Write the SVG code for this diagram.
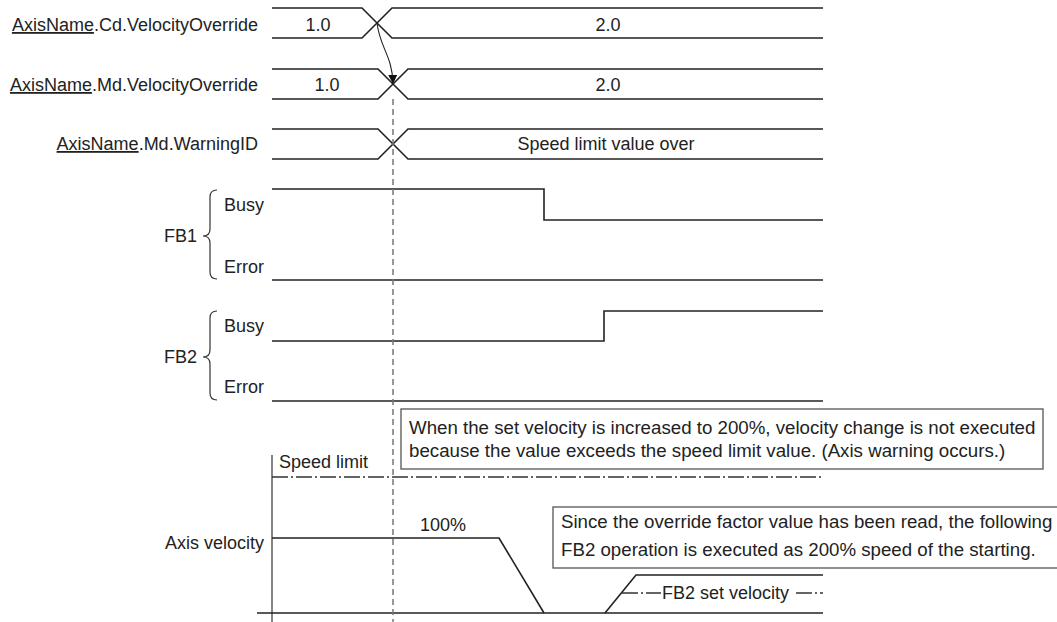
<svg xmlns="http://www.w3.org/2000/svg" width="1057" height="622" viewBox="0 0 1057 622">
<style>
text{font-family:"Liberation Sans",Arial,sans-serif;font-size:18px;fill:#222}
.bt{font-size:18.7px}
.sig{fill:none;stroke:#222;stroke-width:1.6}
.box{fill:#fff;stroke:#555;stroke-width:1.3}
.u{text-decoration:underline}
.e{text-anchor:end}
.m{text-anchor:middle}
.dd{fill:none;stroke:#333;stroke-width:1.3;stroke-dasharray:16 3 2 3}
</style>
<defs>
<marker id="ah" viewBox="0 0 10 10" refX="9" refY="5" markerWidth="9" markerHeight="9" markerUnits="userSpaceOnUse" orient="auto">
<path d="M0,0 L10,5 L0,10 Z" fill="#111"/>
</marker>
</defs>
<rect width="1057" height="622" fill="#fff"/>

<g id="row-cd">
<text x="258" y="31" class="e"><tspan class="u">AxisName</tspan>.Cd.VelocityOverride</text>
<path class="sig" d="M272,8 H362 L392,38 H823 M272,38 H362 L392,8 H823"/>
<text x="318" y="31" class="m">1.0</text>
<text x="608" y="31" class="m">2.0</text>
</g>

<g id="row-md">
<text x="258" y="91" class="e"><tspan class="u">AxisName</tspan>.Md.VelocityOverride</text>
<path class="sig" d="M272,69 H378 L408,99 H823 M272,99 H378 L408,69 H823"/>
<text x="327" y="91" class="m">1.0</text>
<text x="608" y="91" class="m">2.0</text>
</g>

<g id="row-warn">
<text x="258" y="150" class="e"><tspan class="u">AxisName</tspan>.Md.WarningID</text>
<path class="sig" d="M272,129 H378 L408,159 H823 M272,159 H378 L408,129 H823"/>
<text x="606" y="150" class="m">Speed limit value over</text>
</g>

<g id="fb1">
<path d="M217,190 Q210,190 210,197 V229 Q210,236 203,236 Q210,236 210,243 V272 Q210,279 217,279" fill="none" stroke="#333" stroke-width="1.2"/>
<text x="197" y="242" class="e">FB1</text>
<text x="224" y="211">Busy</text>
<text x="224" y="273">Error</text>
<path class="sig" d="M272,189 H544 V220 H823"/>
<path class="sig" d="M272,280 H823"/>
</g>

<g id="fb2">
<path d="M217,311 Q210,311 210,318 V350 Q210,357 203,357 Q210,357 210,364 V393 Q210,400 217,400" fill="none" stroke="#333" stroke-width="1.2"/>
<text x="197" y="363" class="e">FB2</text>
<text x="224" y="332">Busy</text>
<text x="224" y="393">Error</text>
<path class="sig" d="M272,341 H604 V311 H823"/>
<path class="sig" d="M272,401 H823"/>
</g>

<g id="velocity">
<line x1="272" y1="455" x2="272" y2="622" stroke="#666" stroke-width="1.6"/>
<text x="279" y="468">Speed limit</text>
<line x1="272" y1="477" x2="823" y2="477" class="dd"/>
<text x="264" y="549" class="e">Axis velocity</text>
<text x="443" y="531" class="m">100%</text>
<path class="sig" d="M272,538 H499 L544,613"/>
<line x1="257" y1="613" x2="823" y2="613" stroke="#222" stroke-width="1.6"/>
<path class="sig" d="M605,613 L636,575 H823"/>
<line x1="622" y1="593" x2="661" y2="593" class="dd" stroke-dasharray="2 3 2 3 28 0"/>
<text x="662" y="599">FB2 set velocity</text>
<line x1="796" y1="593" x2="823" y2="593" class="dd" stroke-dasharray="2 3 2 3 14 0"/>
</g>

<g id="note1">
<rect class="box" x="401" y="409" width="642" height="60"/>
<text x="409" y="434" class="bt">When the set velocity is increased to 200%, velocity change is not executed</text>
<text x="409" y="457" class="bt">because the value exceeds the speed limit value. (Axis warning occurs.)</text>
</g>

<g id="note2">
<rect class="box" x="553" y="507" width="520" height="61"/>
<text x="561" y="528" class="bt">Since the override factor value has been read, the following</text>
<text x="561" y="556" class="bt">FB2 operation is executed as 200% speed of the starting.</text>
</g>

<g id="connectors">
<line x1="393" y1="99" x2="393" y2="622" stroke="#777" stroke-width="1.5" stroke-dasharray="6 4"/>
<path d="M377,23 C380,48 392,55 393,83" fill="none" stroke="#222" stroke-width="1.1" marker-end="url(#ah)"/>
</g>
</svg>
